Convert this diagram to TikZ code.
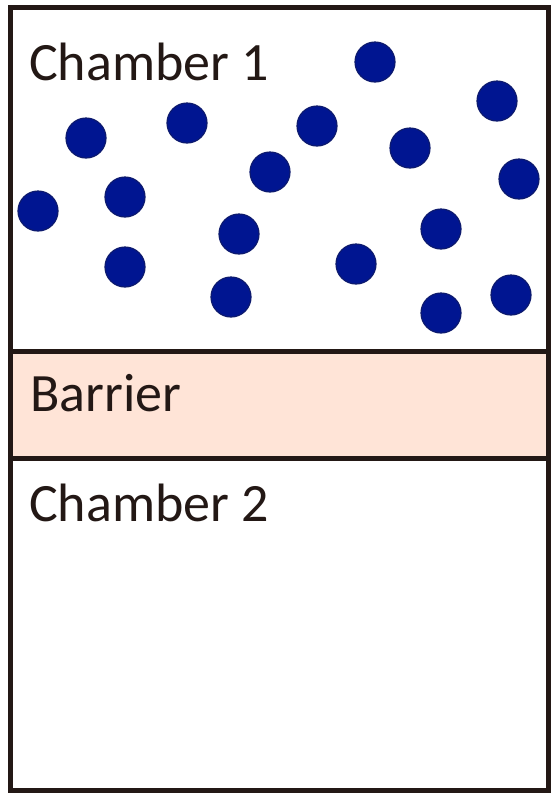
\documentclass[tikz,border=0pt]{standalone}
\usepackage{fontspec}
\setmainfont{Carlito}
\definecolor{edge}{HTML}{231815}
\definecolor{peach}{HTML}{FFE4D7}
\definecolor{ballfill}{HTML}{001591}
\definecolor{ballline}{HTML}{0D1A6E}
\begin{document}
\begin{tikzpicture}[x=1pt,y=-1pt,
  wall/.style={draw=edge,line width=5pt},
  ball/.style={circle,fill=ballfill,draw=ballline,line width=1.2pt,minimum size=40pt,inner sep=0pt},
  label/.style={anchor=base west,inner sep=0pt,text=edge,font=\fontsize{54}{60}\selectfont}]
\useasboundingbox (0,0) rectangle (552,793);
\fill[white] (0,0) rectangle (552,793);
\path[fill=peach] (10.5,351.5) rectangle (548.5,458);
\draw[wall] (10.5,7.5) rectangle (548.5,790);
\draw[wall] (10.5,351.5) -- (548.5,351.5);
\draw[wall] (10.5,458) -- (548.5,458);
\node[label] (c1) at (29,80) {Chamber 1};
\node[label] (bar) at (30,411) {Barrier};
\node[label] (c2) at (29,521) {Chamber 2};
\foreach \i/\x/\y in {1/375/62,2/497/101,3/86/138,4/187/123,5/317/126,6/410/148,7/270/172,8/519/179,9/38/211,10/125/197,11/239/234,12/441/229,13/125/267,14/356/264,15/231/297,16/441/313,17/511/295}
  \node[ball] (b\i) at (\x,\y) {};
\end{tikzpicture}
\end{document}
